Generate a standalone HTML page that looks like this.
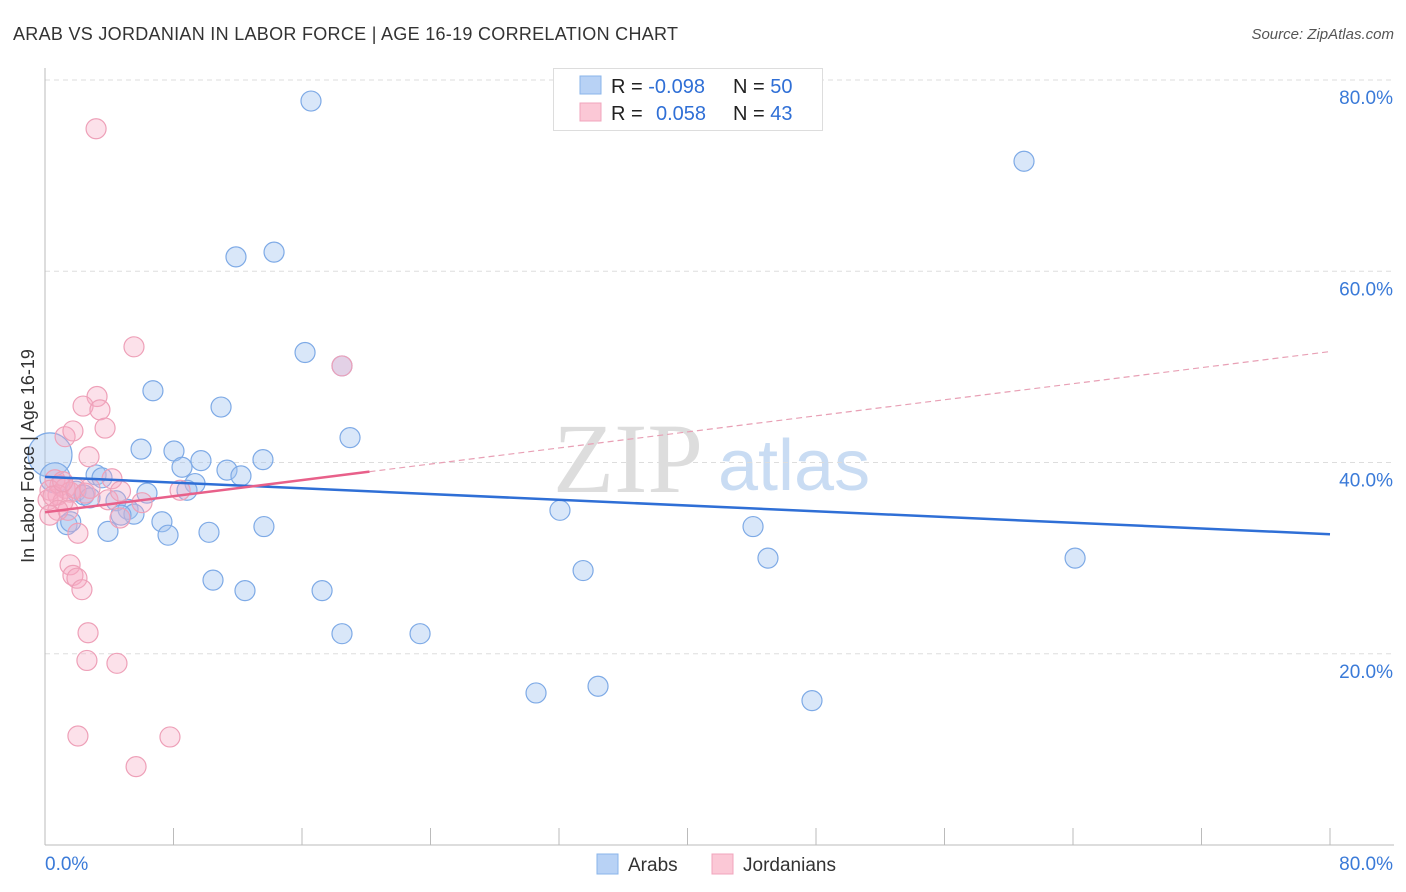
<!DOCTYPE html>
<html><head><meta charset="utf-8"><style>
body{margin:0;background:#fff;font-family:"Liberation Sans",sans-serif;}
svg{display:block}
</style></head><body>
<svg id="chart" width="1406" height="892" viewBox="0 0 1406 892">
<text x="13" y="40" font-size="18" fill="#333" textLength="665">ARAB VS JORDANIAN IN LABOR FORCE | AGE 16-19 CORRELATION CHART</text>
<text x="1394" y="39" font-size="15" fill="#555" font-style="italic" text-anchor="end">Source: ZipAtlas.com</text>
<text x="553" y="492" font-size="100" fill="#ddd" font-family="Liberation Serif,serif">ZIP</text>
<text x="718" y="490" font-size="72" fill="#c9dcf3">atlas</text>
<g id="grid"></g><g id="axes"></g><g id="pts"></g><g id="trends"></g>
<text x="34" y="456" font-size="18" fill="#333" text-anchor="middle" transform="rotate(-90 34 456)">In Labor Force | Age 16-19</text>
<g>
<rect x="553.5" y="68.5" width="269" height="62" fill="#fff" stroke="#ddd"/>
<rect x="580" y="76" width="21" height="18" fill="#b8d2f5" stroke="#8ab4ea"/>
<rect x="580" y="103" width="21" height="18" fill="#fbc8d6" stroke="#f0a5bc"/>
<text x="611" y="93" font-size="20" fill="#222">R = <tspan fill="#2f6fd6">-0.098</tspan><tspan x="733">N = </tspan><tspan fill="#2f6fd6">50</tspan></text>
<text x="611" y="120" font-size="20" fill="#222">R = <tspan x="656" fill="#2f6fd6">0.058</tspan><tspan x="733">N = </tspan><tspan fill="#2f6fd6">43</tspan></text>
</g>
<g>
<rect x="597" y="854" width="21" height="20" fill="#b8d2f5" stroke="#8ab4ea"/>
<text x="628" y="871" font-size="19" fill="#333">Arabs</text>
<rect x="712" y="854" width="21" height="20" fill="#fbc8d6" stroke="#f0a5bc"/>
<text x="743" y="871" font-size="19" fill="#333">Jordanians</text>
</g>
</svg>
<script>
const xTicks=[0,80];
const yTicks=[20,40,60,80];
const arabX=[16.56,60.95,11.89,14.26,16.19,6.72,10.96,18.99,5.98,8.03,9.71,8.53,11.33,13.57,12.2,3.18,3.55,9.34,8.84,6.35,1.93,2.43,2.8,4.42,5.17,5.54,4.73,7.28,1.37,7.66,3.92,10.21,13.63,32.06,44.08,45.01,64.13,33.5,10.46,12.45,17.25,18.49,23.35,30.57,34.43,47.75,0.31,0.62,18.49,1.6];
const arabY=[77.8,71.5,61.5,62.0,51.5,47.5,45.8,42.6,41.4,41.2,40.2,39.5,39.2,40.3,38.6,38.7,38.4,37.8,37.1,36.8,37.0,36.6,36.3,36.0,35.1,34.6,34.5,33.8,33.5,32.4,32.8,32.7,33.3,35.0,33.3,30.0,30.0,28.7,27.7,26.6,26.6,22.1,22.1,15.9,16.6,15.1,40.8,38.4,50.1,33.8];
const arabR=[10,10,10,10,10,10,10,10,10,10,10,10,10,10,10,10,10,10,10,10,10,10,10,10,10,10,10,10,10,10,10,10,10,10,10,10,10,10,10,10,10,10,10,10,10,10,22,15,10,10];
const jorX=[3.18,5.54,18.49,3.24,2.37,3.42,1.25,3.74,1.74,2.74,4.17,0.62,0.93,0.31,1.25,1.56,0.81,0.19,1.12,3.92,6.04,8.41,1.43,4.67,2.05,1.56,1.74,1.99,2.3,2.68,2.61,4.48,2.05,7.78,5.67,0.5,0.8,1.9,2.5,1.1,4.7,2.8,0.3];
const jorY=[74.9,52.1,50.1,46.9,45.9,45.5,42.7,43.6,43.3,40.6,38.3,38.2,37.6,37.1,37.3,36.9,36.6,36.1,35.9,36.1,35.8,37.1,35.0,34.2,32.6,29.3,28.2,27.9,26.7,22.2,19.3,19.0,11.4,11.3,8.2,36.5,35.0,37.3,36.8,38.0,37.0,37.3,34.5];
const arabTrend=[38.5,32.5];
const jorTrend=[34.8,51.6];
const jorSolidEnd=20.2;
const NS='http://www.w3.org/2000/svg';
const sx=v=>45+v/80*1285, sy=v=>845-v/80*765;
function mk(tag,attrs,parent){const e=document.createElementNS(NS,tag);for(const k in attrs)e.setAttribute(k,attrs[k]);document.getElementById(parent).appendChild(e);return e;}
yTicks.forEach(t=>{
 const l=mk('line',{x1:45,x2:1394,y1:sy(t),y2:sy(t),stroke:'#ddd','stroke-dasharray':'5,4'},'grid');
 
 
 const tx=mk('text',{x:1393,y:sy(t)+24,'font-size':19,fill:'#3a7ad8','text-anchor':'end'},'grid');
 tx.textContent=t.toFixed(1)+'%';
 
 
});
const ax=mk('line',{x1:45,x2:1394,y1:845,y2:845,stroke:'#bbb'},'axes');


const ay=mk('line',{x1:45,x2:45,y1:68,y2:845,stroke:'#bbb'},'axes');


for(let i=0;i<=10;i++){const t=mk('line',{x1:sx(i*8),x2:sx(i*8),y1:828,y2:845,stroke:'#bbb'},'axes');
 
 }
xTicks.forEach((t,i)=>{const tx=mk('text',{x:i?1393:45,y:870,'font-size':19,fill:'#3a7ad8','text-anchor':i?'end':'start'},'axes');
 tx.textContent=t.toFixed(1)+'%';
 
 });
arabX.forEach((v,i)=>{const c=mk('circle',{cx:sx(v),cy:sy(arabY[i]),r:arabR[i],fill:'rgba(160,195,240,0.4)',stroke:'#7eaae6','stroke-width':1.2},'pts');
 
 });
jorX.forEach((v,i)=>{const c=mk('circle',{cx:sx(v),cy:sy(jorY[i]),r:10,fill:'rgba(245,170,195,0.35)',stroke:'#eea0b8','stroke-width':1.2},'pts');
 
 });
const bt=mk('line',{x1:sx(0),y1:sy(arabTrend[0]),x2:sx(80),y2:sy(arabTrend[1]),stroke:'#2f6fd6','stroke-width':2.5},'trends');


const jAt=x=>jorTrend[0]+(jorTrend[1]-jorTrend[0])*x/80;
const jt=mk('line',{x1:sx(0),y1:sy(jAt(0)),x2:sx(jorSolidEnd),y2:sy(jAt(jorSolidEnd)),stroke:'#e8608a','stroke-width':2.5},'trends');


const jd=mk('line',{x1:sx(jorSolidEnd),y1:sy(jAt(jorSolidEnd)),x2:sx(80),y2:sy(jAt(80)),stroke:'#e8a0b5','stroke-width':1.2,'stroke-dasharray':'6,4'},'trends');


</script>
</body></html>
